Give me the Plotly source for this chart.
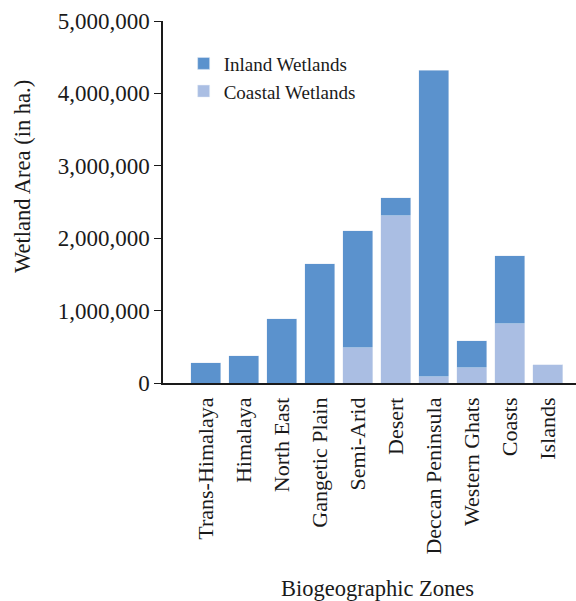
import plotly.graph_objects as go

zones = ["Trans-Himalaya", "Himalaya", "North East", "Gangetic Plain", "Semi-Arid",
         "Desert", "Deccan Peninsula", "Western Ghats", "Coasts", "Islands"]
coastal = [0, 0, 0, 0, 487000, 2308000, 87000, 211000, 818000, 253000]
inland = [280000, 377000, 887000, 1646000, 1613000, 248000, 4233000, 372000, 938000, 0]
y_ticks = [0, 1000000, 2000000, 3000000, 4000000, 5000000]

FONT = "Liberation Serif"
INK = "#1a1a1a"

fig = go.Figure()
fig.add_trace(go.Bar(x=zones, y=coastal, name="Coastal Wetlands", marker_color="#aabee3"))
fig.add_trace(go.Bar(x=zones, y=inland, name="Inland Wetlands", marker_color="#5b92cd"))

fig.update_layout(
    width=576, height=601,
    barmode="stack", bargap=0.21,
    plot_bgcolor="white", paper_bgcolor="white",
    margin=dict(l=163, r=0, t=21, b=218),
    font=dict(family=FONT, size=22, color=INK),
    showlegend=True,
    legend=dict(x=0.05, y=0.935, xanchor="left", yanchor="top", traceorder="reversed",
                font=dict(size=19), bgcolor="rgba(0,0,0,0)", itemwidth=30,
                tracegroupgap=0),
    xaxis=dict(
        showline=True, linecolor=INK, linewidth=1.5,
        ticks="", tickangle=-90, ticklabelstandoff=4,
        range=[-1.12, 9.75], automargin=False,
        tickfont=dict(size=22),
    ),
    yaxis=dict(
        range=[0, 5000000], tickvals=y_ticks, tickformat=",d",
        showline=True, linecolor=INK, linewidth=1.5,
        ticks="outside", ticklen=7, tickcolor=INK,
        showgrid=False, zeroline=False, automargin=False,
        tickfont=dict(size=23),
    ),
    annotations=[
        dict(text="Wetland Area (in ha.)", textangle=-90,
             xref="paper", yref="paper", x=-0.339, y=0.572,
             xanchor="center", yanchor="middle", showarrow=False,
             font=dict(size=22.5)),
        dict(text="Biogeographic Zones",
             xref="paper", yref="paper", x=0.52, y=-0.569,
             xanchor="center", yanchor="middle", showarrow=False,
             font=dict(size=22.5)),
    ],
)

fig.write_html("out.html", config={"displayModeBar": False},
               post_script="document.body.style.margin='0';")
